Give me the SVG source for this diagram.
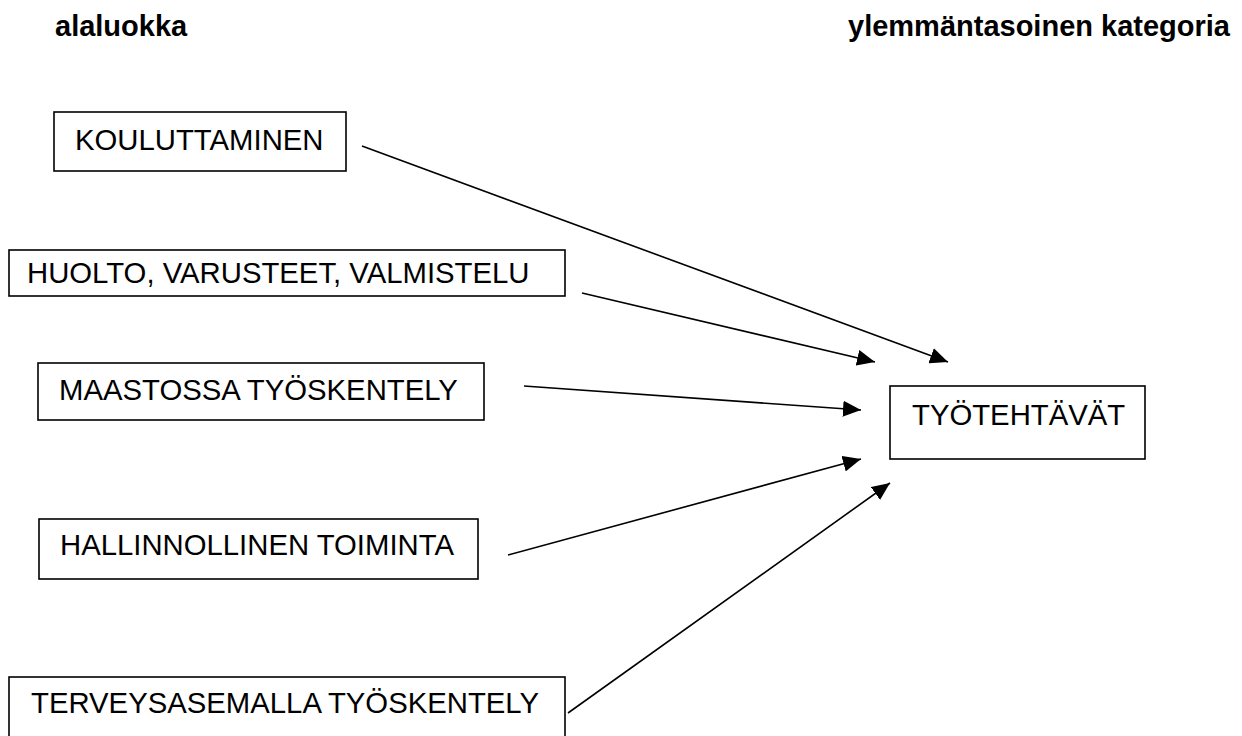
<svg xmlns="http://www.w3.org/2000/svg" width="1242" height="736" viewBox="0 0 1242 736">
  <style>
    .box { fill: #ffffff; stroke: #000000; stroke-width: 1.6; }
    .lbl { font-family: "Liberation Sans", Arial, sans-serif; font-size: 29.3px; fill: #000000; }
    .hdr { font-family: "Liberation Sans", Arial, sans-serif; font-size: 29px; font-weight: bold; fill: #000000; }
    .conn { stroke: #000000; stroke-width: 1.6; fill: none; marker-end: url(#head); }
  </style>
  <defs>
    <marker id="head" markerUnits="userSpaceOnUse" markerWidth="20" markerHeight="16" refX="18" refY="8" orient="auto">
      <path d="M0,0 L18,8 L0,16 Z" fill="#000000"/>
    </marker>
  </defs>
  <rect width="1242" height="736" fill="#ffffff"/>

  <!-- column headings -->
  <text class="hdr" x="55" y="36">alaluokka</text>
  <text class="hdr" x="848" y="36">ylemmäntasoinen kategoria</text>

  <!-- subclass nodes -->
  <g id="node-kouluttaminen">
    <rect class="box" x="54" y="112" width="292" height="59"/>
    <text class="lbl" x="75" y="150">KOULUTTAMINEN</text>
  </g>
  <g id="node-huolto">
    <rect class="box" x="9" y="250" width="556" height="46"/>
    <text class="lbl" x="27" y="283">HUOLTO, VARUSTEET, VALMISTELU</text>
  </g>
  <g id="node-maastossa">
    <rect class="box" x="38" y="363" width="446" height="57"/>
    <text class="lbl" x="59" y="400">MAASTOSSA TYÖSKENTELY</text>
  </g>
  <g id="node-hallinnollinen">
    <rect class="box" x="39" y="519" width="439" height="60"/>
    <text class="lbl" x="60" y="555">HALLINNOLLINEN TOIMINTA</text>
  </g>
  <g id="node-terveysasemalla">
    <rect class="box" x="9" y="677" width="556" height="80"/>
    <text class="lbl" x="31" y="713">TERVEYSASEMALLA TYÖSKENTELY</text>
  </g>

  <!-- upper category node -->
  <g id="node-tyotehtavat">
    <rect class="box" x="890" y="386" width="255" height="73"/>
    <text class="lbl" x="912" y="425">TYÖTEHTÄVÄT</text>
  </g>

  <!-- connectors -->
  <g id="connectors">
    <line class="conn" x1="362" y1="146" x2="948" y2="362"/>
    <line class="conn" x1="582" y1="293" x2="875" y2="362"/>
    <line class="conn" x1="524" y1="386" x2="861" y2="410"/>
    <line class="conn" x1="508" y1="555" x2="861" y2="459"/>
    <line class="conn" x1="568" y1="713" x2="890" y2="483"/>
  </g>
</svg>
